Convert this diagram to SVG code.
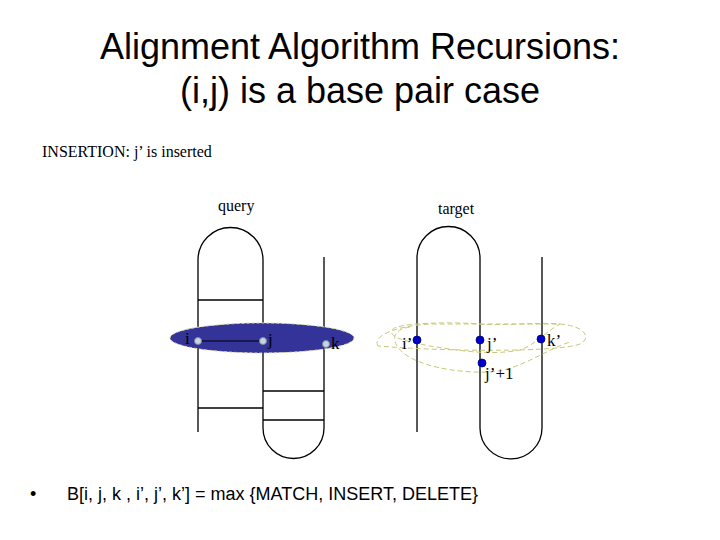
<svg xmlns="http://www.w3.org/2000/svg" width="720" height="540" viewBox="0 0 720 540">
<style>
.title{font-family:"Liberation Sans",Arial,sans-serif;font-size:36px;fill:#000;text-anchor:middle}
.serif{font-family:"Liberation Serif","Times New Roman",serif;fill:#000}
.strand{fill:none;stroke:#000;stroke-width:1.3}
.qdot{fill:#c8d4e4;stroke:#7a8a9a;stroke-width:1}
.tdot{fill:#0000c8;stroke:#000080;stroke-width:0.8}
.hull{fill:none;stroke:#c8c87a;stroke-width:1;stroke-dasharray:5,3}
</style>
<rect width="720" height="540" fill="#fff"/>
<text class="title" x="360" y="59">Alignment Algorithm Recursions:</text>
<text class="title" x="360" y="103">(i,j) is a base pair case</text>
<text class="serif" x="42" y="157" font-size="16">INSERTION: j’ is inserted</text>
<text class="serif" x="218" y="211" font-size="16">query</text>
<text class="serif" x="438" y="214" font-size="16">target</text>

<g id="query">
<path class="strand" d="M198,432 V260 A32.5,32.5 0 0 1 263,260 V428 A30.5,30.5 0 0 0 324,428 V257"/>
<line class="strand" x1="198" y1="300" x2="263" y2="300"/>
<line class="strand" x1="198" y1="408" x2="263" y2="408"/>
<line class="strand" x1="263" y1="391" x2="324" y2="391"/>
<line class="strand" x1="263" y1="420" x2="324" y2="420"/>
</g>

<g id="query-region">
<ellipse cx="262" cy="338" rx="92" ry="15" fill="#333399" stroke="#d8d8a0" stroke-width="1" stroke-dasharray="3,2"/>
<line x1="198" y1="341" x2="263" y2="341" stroke="#000" stroke-width="1.2"/>
<circle class="qdot" cx="198" cy="341" r="3.5"/>
<circle class="qdot" cx="263" cy="341" r="3.5"/>
<circle class="qdot" cx="326" cy="344" r="3.5"/>
<text class="serif" x="185" y="344" font-size="17">i</text>
<text class="serif" x="268" y="345" font-size="17">j</text>
<text class="serif" x="331" y="349" font-size="17">k</text>
</g>

<g id="target">
<path class="strand" d="M417,432 V258 A31.5,31.5 0 0 1 480,258 V428 A31,31 0 0 0 542,428 V257"/>
</g>

<g id="target-region">
<path class="hull" d="M378,346 C372,336 395,326 430,324 L560,324 C585,326 592,338 580,344 C560,352 450,352 378,346 Z"/>
<path class="hull" d="M392,330 C396,322 460,322 480,324 C500,326 540,322 560,324 C548,330 535,345 520,350 C490,356 455,350 430,346 C410,342 388,338 392,330 Z"/>
<path class="hull" d="M410,327 C385,330 392,352 420,362 C440,370 470,373 490,372 C520,370 545,350 570,342"/>
<circle class="tdot" cx="417" cy="340" r="4"/>
<circle class="tdot" cx="480" cy="340" r="4"/>
<circle class="tdot" cx="482" cy="363" r="4"/>
<circle class="tdot" cx="541" cy="339" r="4"/>
<text class="serif" x="402" y="349" font-size="17">i’</text>
<text class="serif" x="487" y="349" font-size="17">j’</text>
<text class="serif" x="485" y="379" font-size="17">j’+1</text>
<text class="serif" x="547" y="346" font-size="17">k’</text>
</g>

<text x="30" y="500" font-family="Liberation Sans,Arial,sans-serif" font-size="18">•</text>
<text x="67" y="500" font-family="Liberation Sans,Arial,sans-serif" font-size="18">B[i, j, k , i’, j’, k’] = max {MATCH, INSERT, DELETE}</text>
</svg>
